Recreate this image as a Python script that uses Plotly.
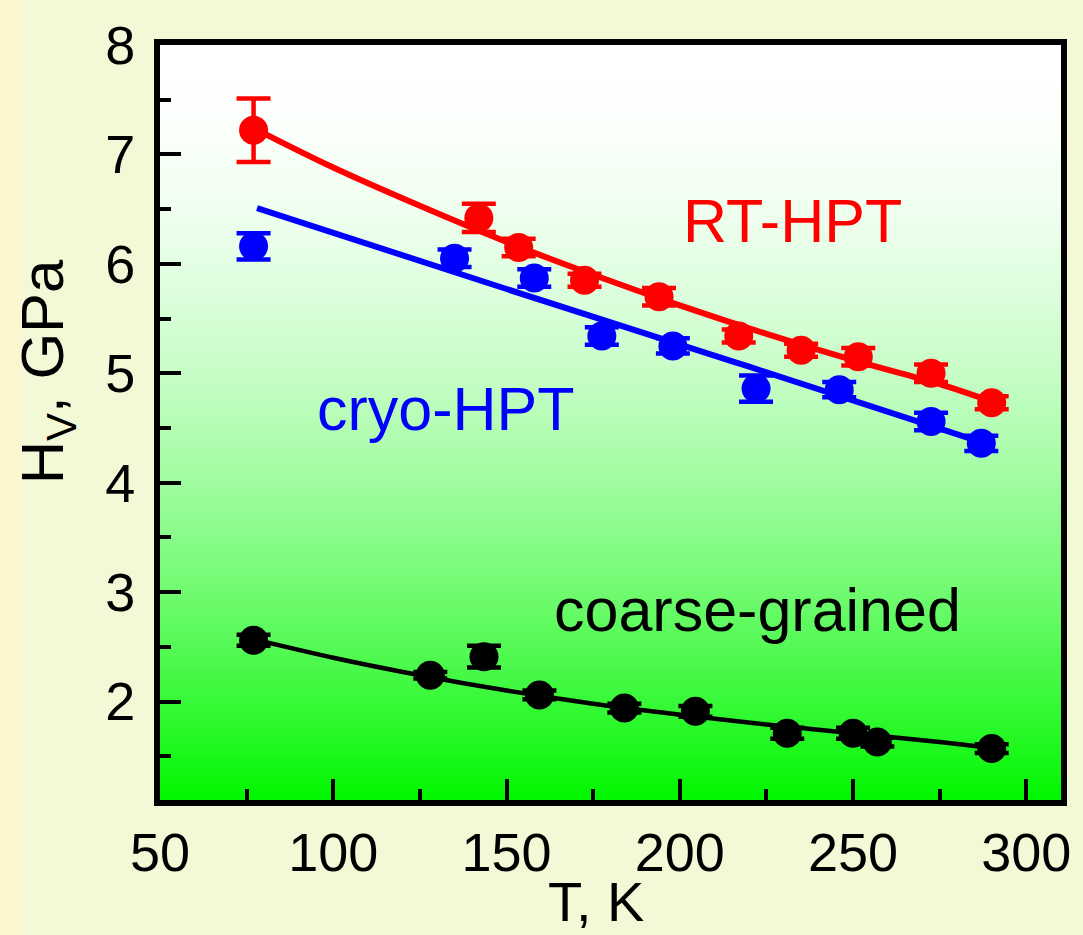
import plotly.graph_objects as go

# ---- data ----
rt_T = [77, 142, 153.5, 172.5, 194, 217, 235, 251.5, 272.5, 290]
rt_H = [7.22, 6.42, 6.15, 5.85, 5.70, 5.34, 5.21, 5.15, 5.00, 4.73]
rt_err = [0.29, 0.13, 0.08, 0.06, 0.08, 0.06, 0.06, 0.08, 0.08, 0.06]

cryo_T = [77, 135, 158, 177.5, 198, 222, 246, 272.5, 287]
cryo_H = [6.16, 6.05, 5.87, 5.34, 5.25, 4.86, 4.85, 4.56, 4.36]
cryo_err = [0.12, 0.08, 0.08, 0.08, 0.07, 0.12, 0.07, 0.08, 0.07]

cg_T = [77, 128, 143.5, 159.5, 184, 204.5, 231, 250, 257, 290]
cg_H = [2.56, 2.24, 2.41, 2.06, 1.94, 1.91, 1.71, 1.71, 1.63, 1.57]
cg_err = [0.05, 0.03, 0.10, 0.04, 0.04, 0.05, 0.05, 0.05, 0.04, 0.04]

rt_fit_T = [77, 100, 125, 150, 175, 200, 225, 250, 275, 291]
rt_fit_H = [7.24, 6.88, 6.53, 6.20, 5.90, 5.62, 5.36, 5.12, 4.90, 4.73]

cryo_fit_T = [78, 150, 220, 289]
cryo_fit_H = [6.51, 5.77, 5.06, 4.35]

cg_fit_T = [77, 100, 125, 150, 175, 200, 225, 250, 275, 291]
cg_fit_H = [2.57, 2.40, 2.24, 2.10, 1.98, 1.88, 1.79, 1.71, 1.63, 1.57]

x_ticks = [50, 100, 150, 200, 250, 300]
y_ticks = [2, 3, 4, 5, 6, 7, 8]

labels = ["RT-HPT", "cryo-HPT", "coarse-grained"]
label_T = [232.5, 132.5, 222.5]
label_H = [6.39, 4.67, 2.84]

RED, BLUE, BLACK = "#FF0000", "#0000FF", "#000000"
FONT = "Liberation Sans, Arial, sans-serif"

fig = go.Figure()

def add_series(T, H, E, fT, fH, color, lw):
    fig.add_trace(go.Scatter(x=fT, y=fH, mode="lines", line=dict(color=color, width=lw, shape="spline"),
                             showlegend=False, hoverinfo="skip"))
    fig.add_trace(go.Scatter(x=T, y=H, mode="markers",
                             marker=dict(color=color, size=29, symbol="circle", line=dict(width=0)),
                             error_y=dict(type="data", array=E, visible=True, color=color, thickness=4.5, width=17),
                             showlegend=False))

add_series(rt_T, rt_H, rt_err, rt_fit_T, rt_fit_H, RED, 6)
add_series(cryo_T, cryo_H, cryo_err, cryo_fit_T, cryo_fit_H, BLUE, 6)
add_series(cg_T, cg_H, cg_err, cg_fit_T, cg_fit_H, BLACK, 4.5)

# gradient background of the plot area (white -> green)
shapes = []
N = 160
for i in range(N):
    t = (i + 0.5) / N  # 0 at top, 1 at bottom
    f = t ** 1.8
    rb = int(round(255 * (1 - f)))
    g = int(round(255 - 8 * f))
    shapes.append(dict(type="rect", xref="paper", yref="paper", x0=0, x1=1,
                       y0=1 - (i + 1) / N, y1=1 - i / N + 0.001,
                       fillcolor=f"rgb({rb},{g},{rb})", line=dict(width=0), layer="below"))
# narrow creamy strip at the far left of the page
shapes.append(dict(type="rect", xref="paper", yref="paper", x0=-0.1775, x1=-0.157,
                   y0=-0.2, y1=1.1, fillcolor="#FDF5CC", line=dict(width=0), layer="below"))

annotations = []
for txt, tx, ty, col in zip(labels, label_T, label_H, [RED, BLUE, BLACK]):
    annotations.append(dict(x=tx, y=ty, xref="x", yref="y", text=txt, showarrow=False,
                            font=dict(family=FONT, size=61, color=col)))
annotations.append(dict(x=0.484, y=-0.135, xref="paper", yref="paper", text="T, K", showarrow=False,
                        yanchor="middle", font=dict(family=FONT, size=56, color="black")))
annotations.append(dict(x=-0.125, y=0.567, xref="paper", yref="paper", text="H<sub>V</sub>, GPa",
                        showarrow=False, textangle=-90, xanchor="center", yanchor="middle",
                        font=dict(family=FONT, size=60, color="black")))

axis_common = dict(showline=True, linecolor="black", linewidth=6, mirror=True, showgrid=False,
                   zeroline=False, ticks="inside", tickcolor="black", tickwidth=4, ticklen=21,
                   tickfont=dict(family=FONT, size=54, color="black"))

fig.update_layout(
    width=1083, height=935,
    margin=dict(l=160, r=16, t=45, b=135),
    paper_bgcolor="#F3F8D6", plot_bgcolor="rgba(0,0,0,0)",
    shapes=shapes, annotations=annotations, showlegend=False,
    xaxis=dict(range=[50, 310], tickvals=x_ticks, ticktext=[str(v) for v in x_ticks],
               minor=dict(ticks="inside", ticklen=11, tickwidth=4, tickcolor="black", dtick=25, tick0=0),
               **axis_common),
    yaxis=dict(range=[1.1, 8], tickvals=y_ticks, ticktext=[str(v) for v in y_ticks],
               ticklabelstandoff=8,
               minor=dict(ticks="inside", ticklen=11, tickwidth=4, tickcolor="black", dtick=0.5, tick0=0),
               **axis_common),
)

fig.write_html("out.html")
